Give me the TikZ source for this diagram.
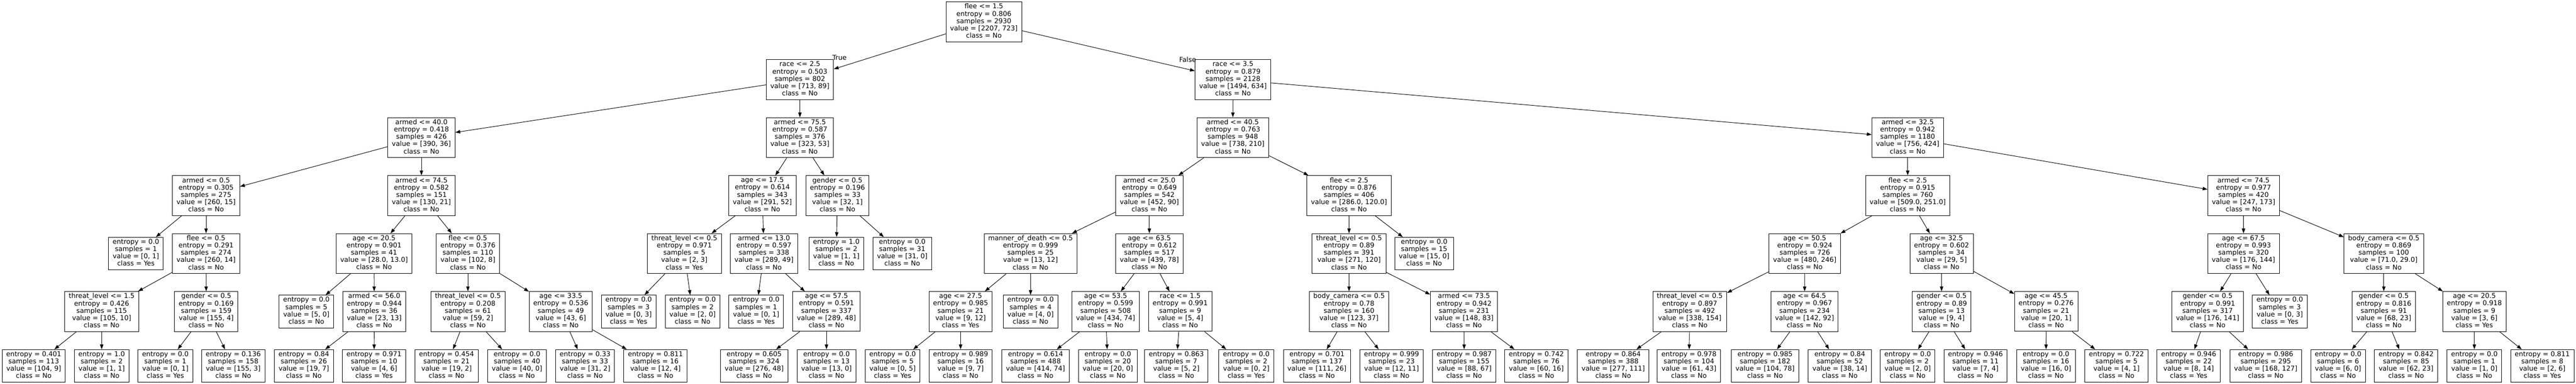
\documentclass[tikz,border=0pt]{standalone}
\usepackage{fontspec}
\setmainfont{DejaVu Sans}
\usepackage{tikz}
\usetikzlibrary{arrows.meta}

\newcommand{\SplitText}[5]{#1\\entropy = #2\\samples = #3\\value = [#4]\\class = #5}
\newcommand{\LeafText}[4]{entropy = #1\\samples = #2\\value = [#3]\\class = #4}

\begin{document}
\begin{tikzpicture}[x=1pt, y=-1pt,
	treebox/.style={draw=black, line width=1.33pt, rectangle, align=center, inner xsep=11.3pt, inner ysep=4.8pt, font=\fontsize{18.4}{20}\selectfont, execute at begin node=\strut, execute at end node=\strut},
	branch/.style={-{Triangle[length=13.3pt, width=9.3pt]}, line width=1.33pt},
	sidelabel/.style={font=\fontsize{18.4}{20}\selectfont, inner sep=0pt}]
					\pgfmathsetmacro{\PicWidth}{7069}
					\pgfmathsetmacro{\PicHeight}{1053}
					\pgfmathsetmacro{\RankA}{60}
					\pgfmathsetmacro{\RankB}{218.5}
					\pgfmathsetmacro{\RankC}{377.5}
					\pgfmathsetmacro{\RankD}{536.5}
					\pgfmathsetmacro{\RankE}{695.5}
					\pgfmathsetmacro{\RankF}{854.5}
					\pgfmathsetmacro{\RankG}{1003.5}
					\fill[white] (0,0) rectangle (\PicWidth,\PicHeight);
					% ROOT
					\node[treebox] (N) at (2700,\RankA) {\SplitText{flee <= 1.5}{0.806}{2930}{2207, 723}{No}};
					% DEPTH 1
					\node[treebox] (NT) at (2195,\RankB) {\SplitText{race <= 2.5}{0.503}{802}{713, 89}{No}};
					\node[treebox] (NF) at (3383.5,\RankB) {\SplitText{race <= 3.5}{0.879}{2128}{1494, 634}{No}};
					% DEPTH 2
					\node[treebox] (NTT) at (1156.5,\RankC) {\SplitText{armed <= 40.0}{0.418}{426}{390, 36}{No}};
					\node[treebox] (NTF) at (2195,\RankC) {\SplitText{armed <= 75.5}{0.587}{376}{323, 53}{No}};
					\node[treebox] (NFT) at (3383,\RankC) {\SplitText{armed <= 40.5}{0.763}{948}{738, 210}{No}};
					\node[treebox] (NFF) at (5235,\RankC) {\SplitText{armed <= 32.5}{0.942}{1180}{756, 424}{No}};
					% DEPTH 3
					\node[treebox] (NTTT) at (565.5,\RankD) {\SplitText{armed <= 0.5}{0.305}{275}{260, 15}{No}};
					\node[treebox] (NTTF) at (1156.5,\RankD) {\SplitText{armed <= 74.5}{0.582}{151}{130, 21}{No}};
					\node[treebox] (NTFT) at (2092,\RankD) {\SplitText{age <= 17.5}{0.614}{343}{291, 52}{No}};
					\node[treebox] (NTFF) at (2298,\RankD) {\SplitText{gender <= 0.5}{0.196}{33}{32, 1}{No}};
					\node[treebox] (NFTT) at (3154,\RankD) {\SplitText{armed <= 25.0}{0.649}{542}{452, 90}{No}};
					\node[treebox] (NFTF) at (3702,\RankD) {\SplitText{flee <= 2.5}{0.876}{406}{286.0, 120.0}{No}};
					\node[treebox] (NFFT) at (5235,\RankD) {\SplitText{flee <= 2.5}{0.915}{760}{509.0, 251.0}{No}};
					\node[treebox] (NFFF) at (6156.6,\RankD) {\SplitText{armed <= 74.5}{0.977}{420}{247, 173}{No}};
					% DEPTH 4
					\node[treebox] (NTTTT) at (373,\RankE) {\LeafText{0.0}{1}{0, 1}{Yes}};
					\node[treebox] (NTTTF) at (565.5,\RankE) {\SplitText{flee <= 0.5}{0.291}{274}{260, 14}{No}};
					\node[treebox] (NTTFT) at (1026.5,\RankE) {\SplitText{age <= 20.5}{0.901}{41}{28.0, 13.0}{No}};
					\node[treebox] (NTTFF) at (1284,\RankE) {\SplitText{flee <= 0.5}{0.376}{110}{102, 8}{No}};
					\node[treebox] (NTFTT) at (1878,\RankE) {\SplitText{threat\_level <= 0.5}{0.971}{5}{2, 3}{Yes}};
					\node[treebox] (NTFTF) at (2096.4,\RankE) {\SplitText{armed <= 13.0}{0.597}{338}{289, 49}{No}};
					\node[treebox] (NTFFT) at (2295,\RankE) {\LeafText{1.0}{2}{1, 1}{No}};
					\node[treebox] (NTFFF) at (2476,\RankE) {\LeafText{0.0}{31}{31, 0}{No}};
					\node[treebox] (NFTTT) at (2828,\RankE) {\SplitText{manner\_of\_death <= 0.5}{0.999}{25}{13, 12}{No}};
					\node[treebox] (NFTTF) at (3154,\RankE) {\SplitText{age <= 63.5}{0.612}{517}{439, 78}{No}};
					\node[treebox] (NFTFT) at (3702,\RankE) {\SplitText{threat\_level <= 0.5}{0.89}{391}{271, 120}{No}};
					\node[treebox] (NFTFF) at (3908,\RankE) {\LeafText{0.0}{15}{15, 0}{No}};
					\node[treebox] (NFFTT) at (4952.6,\RankE) {\SplitText{age <= 50.5}{0.924}{726}{480, 246}{No}};
					\node[treebox] (NFFTF) at (5328,\RankE) {\SplitText{age <= 32.5}{0.602}{34}{29, 5}{No}};
					\node[treebox] (NFFFT) at (6156.5,\RankE) {\SplitText{age <= 67.5}{0.993}{320}{176, 144}{No}};
					\node[treebox] (NFFFF) at (6541.5,\RankE) {\SplitText{body\_camera <= 0.5}{0.869}{100}{71.0, 29.0}{No}};
					% DEPTH 5
					\node[treebox] (NTTTFT) at (279,\RankF) {\SplitText{threat\_level <= 1.5}{0.426}{115}{105, 10}{No}};
					\node[treebox] (NTTTFF) at (566,\RankF) {\SplitText{gender <= 0.5}{0.169}{159}{155, 4}{No}};
					\node[treebox] (NTTFTT) at (840.7,\RankF) {\LeafText{0.0}{5}{5, 0}{No}};
					\node[treebox] (NTTFTF) at (1027,\RankF) {\SplitText{armed <= 56.0}{0.944}{36}{23, 13}{No}};
					\node[treebox] (NTTFFT) at (1284,\RankF) {\SplitText{threat\_level <= 0.5}{0.208}{61}{59, 2}{No}};
					\node[treebox] (NTTFFF) at (1539,\RankF) {\SplitText{age <= 33.5}{0.536}{49}{43, 6}{No}};
					\node[treebox] (NTFTTT) at (1725,\RankF) {\LeafText{0.0}{3}{0, 3}{Yes}};
					\node[treebox] (NTFTTF) at (1900.5,\RankF) {\LeafText{0.0}{2}{2, 0}{No}};
					\node[treebox] (NTFTFT) at (2075,\RankF) {\LeafText{0.0}{1}{0, 1}{Yes}};
					\node[treebox] (NTFTFF) at (2268,\RankF) {\SplitText{age <= 57.5}{0.591}{337}{289, 48}{No}};
					\node[treebox] (NFTTTT) at (2636,\RankF) {\SplitText{age <= 27.5}{0.985}{21}{9, 12}{Yes}};
					\node[treebox] (NFTTTF) at (2828,\RankF) {\LeafText{0.0}{4}{4, 0}{No}};
					\node[treebox] (NFTTFT) at (3034,\RankF) {\SplitText{age <= 53.5}{0.599}{508}{434, 74}{No}};
					\node[treebox] (NFTTFF) at (3238.5,\RankF) {\SplitText{race <= 1.5}{0.991}{9}{5, 4}{No}};
					\node[treebox] (NFTFTT) at (3702,\RankF) {\SplitText{body\_camera <= 0.5}{0.78}{160}{123, 37}{No}};
					\node[treebox] (NFTFTF) at (4017.5,\RankF) {\SplitText{armed <= 73.5}{0.942}{231}{148, 83}{No}};
					\node[treebox] (NFFTTT) at (4637,\RankF) {\SplitText{threat\_level <= 0.5}{0.897}{492}{338, 154}{No}};
					\node[treebox] (NFFTTF) at (4952,\RankF) {\SplitText{age <= 64.5}{0.967}{234}{142, 92}{No}};
					\node[treebox] (NFFTFT) at (5328,\RankF) {\SplitText{gender <= 0.5}{0.89}{13}{9, 4}{No}};
					\node[treebox] (NFFTFF) at (5615,\RankF) {\SplitText{age <= 45.5}{0.276}{21}{20, 1}{No}};
					\node[treebox] (NFFFTT) at (6058,\RankF) {\SplitText{gender <= 0.5}{0.991}{317}{176, 141}{No}};
					\node[treebox] (NFFFTF) at (6256,\RankF) {\LeafText{0.0}{3}{0, 3}{Yes}};
					\node[treebox] (NFFFFT) at (6541.5,\RankF) {\SplitText{gender <= 0.5}{0.816}{91}{68, 23}{No}};
					\node[treebox] (NFFFFF) at (6790,\RankF) {\SplitText{age <= 20.5}{0.918}{9}{3, 6}{Yes}};
					% DEPTH 6
					\node[treebox] (NTTTFTT) at (92.6,\RankG) {\LeafText{0.401}{113}{104, 9}{No}};
					\node[treebox] (NTTTFTF) at (279,\RankG) {\LeafText{1.0}{2}{1, 1}{No}};
					\node[treebox] (NTTTFFT) at (453.8,\RankG) {\LeafText{0.0}{1}{0, 1}{Yes}};
					\node[treebox] (NTTTFFF) at (640,\RankG) {\LeafText{0.136}{158}{155, 3}{No}};
					\node[treebox] (NTTFTFT) at (833.8,\RankG) {\LeafText{0.84}{26}{19, 7}{No}};
					\node[treebox] (NTTFTFF) at (1026.6,\RankG) {\LeafText{0.971}{10}{4, 6}{Yes}};
					\node[treebox] (NTTFFTT) at (1225.5,\RankG) {\LeafText{0.454}{21}{19, 2}{No}};
					\node[treebox] (NTTFFTF) at (1418.8,\RankG) {\LeafText{0.0}{40}{40, 0}{No}};
					\node[treebox] (NTTFFFT) at (1605.5,\RankG) {\LeafText{0.33}{33}{31, 2}{No}};
					\node[treebox] (NTTFFFF) at (1798.7,\RankG) {\LeafText{0.811}{16}{12, 4}{No}};
					\node[treebox] (NTFTFFT) at (2069.6,\RankG) {\LeafText{0.605}{324}{276, 48}{No}};
					\node[treebox] (NTFTFFF) at (2268,\RankG) {\LeafText{0.0}{13}{13, 0}{No}};
					\node[treebox] (NFTTTTT) at (2449.5,\RankG) {\LeafText{0.0}{5}{0, 5}{Yes}};
					\node[treebox] (NFTTTTF) at (2636,\RankG) {\LeafText{0.989}{16}{9, 7}{No}};
					\node[treebox] (NFTTFTT) at (2841.7,\RankG) {\LeafText{0.614}{488}{414, 74}{No}};
					\node[treebox] (NFTTFTF) at (3040,\RankG) {\LeafText{0.0}{20}{20, 0}{No}};
					\node[treebox] (NFTTFFT) at (3228,\RankG) {\LeafText{0.863}{7}{5, 2}{No}};
					\node[treebox] (NFTTFFF) at (3420,\RankG) {\LeafText{0.0}{2}{0, 2}{Yes}};
					\node[treebox] (NFTFTTT) at (3614,\RankG) {\LeafText{0.701}{137}{111, 26}{No}};
					\node[treebox] (NFTFTTF) at (3818.6,\RankG) {\LeafText{0.999}{23}{12, 11}{No}};
					\node[treebox] (NFTFTFT) at (4018,\RankG) {\LeafText{0.987}{155}{88, 67}{No}};
					\node[treebox] (NFTFTFF) at (4216,\RankG) {\LeafText{0.742}{76}{60, 16}{No}};
					\node[treebox] (NFFTTTT) at (4427,\RankG) {\LeafText{0.864}{388}{277, 111}{No}};
					\node[treebox] (NFFTTTF) at (4634.8,\RankG) {\LeafText{0.978}{104}{61, 43}{No}};
					\node[treebox] (NFFTTFT) at (4843.6,\RankG) {\LeafText{0.985}{182}{104, 78}{No}};
					\node[treebox] (NFFTTFF) at (5048.7,\RankG) {\LeafText{0.84}{52}{38, 14}{No}};
					\node[treebox] (NFFTFTT) at (5235,\RankG) {\LeafText{0.0}{2}{2, 0}{No}};
					\node[treebox] (NFFTFTF) at (5421,\RankG) {\LeafText{0.946}{11}{7, 4}{No}};
					\node[treebox] (NFFTFFT) at (5614.6,\RankG) {\LeafText{0.0}{16}{16, 0}{No}};
					\node[treebox] (NFFTFFF) at (5808,\RankG) {\LeafText{0.722}{5}{4, 1}{No}};
					\node[treebox] (NFFFTTT) at (6006,\RankG) {\LeafText{0.946}{22}{8, 14}{Yes}};
					\node[treebox] (NFFFTTF) at (6217.6,\RankG) {\LeafText{0.986}{295}{168, 127}{No}};
					\node[treebox] (NFFFFTT) at (6416,\RankG) {\LeafText{0.0}{6}{6, 0}{No}};
					\node[treebox] (NFFFFTF) at (6602.6,\RankG) {\LeafText{0.842}{85}{62, 23}{No}};
					\node[treebox] (NFFFFFT) at (6790,\RankG) {\LeafText{0.0}{1}{1, 0}{No}};
					\node[treebox] (NFFFFFF) at (6976.5,\RankG) {\LeafText{0.811}{8}{2, 6}{Yes}};
					% BRANCHES
					\foreach \Parent/\Child in {N/NT, N/NF,
						NT/NTT, NT/NTF, NF/NFT, NF/NFF,
						NTT/NTTT, NTT/NTTF, NTF/NTFT, NTF/NTFF, NFT/NFTT, NFT/NFTF, NFF/NFFT, NFF/NFFF,
						NTTT/NTTTT, NTTT/NTTTF, NTTF/NTTFT, NTTF/NTTFF, NTFT/NTFTT, NTFT/NTFTF, NTFF/NTFFT, NTFF/NTFFF,
						NFTT/NFTTT, NFTT/NFTTF, NFTF/NFTFT, NFTF/NFTFF, NFFT/NFFTT, NFFT/NFFTF, NFFF/NFFFT, NFFF/NFFFF,
						NTTTF/NTTTFT, NTTTF/NTTTFF, NTTFT/NTTFTT, NTTFT/NTTFTF, NTTFF/NTTFFT, NTTFF/NTTFFF,
						NTFTT/NTFTTT, NTFTT/NTFTTF, NTFTF/NTFTFT, NTFTF/NTFTFF,
						NFTTT/NFTTTT, NFTTT/NFTTTF, NFTTF/NFTTFT, NFTTF/NFTTFF, NFTFT/NFTFTT, NFTFT/NFTFTF,
						NFFTT/NFFTTT, NFFTT/NFFTTF, NFFTF/NFFTFT, NFFTF/NFFTFF, NFFFT/NFFFTT, NFFFT/NFFFTF, NFFFF/NFFFFT, NFFFF/NFFFFF,
						NTTTFT/NTTTFTT, NTTTFT/NTTTFTF, NTTTFF/NTTTFFT, NTTTFF/NTTTFFF, NTTFTF/NTTFTFT, NTTFTF/NTTFTFF,
						NTTFFT/NTTFFTT, NTTFFT/NTTFFTF, NTTFFF/NTTFFFT, NTTFFF/NTTFFFF, NTFTFF/NTFTFFT, NTFTFF/NTFTFFF,
						NFTTTT/NFTTTTT, NFTTTT/NFTTTTF, NFTTFT/NFTTFTT, NFTTFT/NFTTFTF, NFTTFF/NFTTFFT, NFTTFF/NFTTFFF,
						NFTFTT/NFTFTTT, NFTFTT/NFTFTTF, NFTFTF/NFTFTFT, NFTFTF/NFTFTFF, NFFTTT/NFFTTTT, NFFTTT/NFFTTTF,
						NFFTTF/NFFTTFT, NFFTTF/NFFTTFF, NFFTFT/NFFTFTT, NFFTFT/NFFTFTF, NFFTFF/NFFTFFT, NFFTFF/NFFTFFF,
						NFFFTT/NFFFTTT, NFFFTT/NFFFTTF, NFFFFT/NFFFFTT, NFFFFT/NFFFFTF, NFFFFF/NFFFFFT, NFFFFF/NFFFFFF}
						\draw[branch] (\Parent) -- (\Child);
					% TRUE / FALSE
					\node[sidelabel, anchor=base west] (TrueLabel) at ([xshift=-4pt, yshift=-2pt]NT.north east) {True};
					\node[sidelabel, anchor=base east] (FalseLabel) at ([xshift=3.5pt, yshift=-7pt]NF.north west) {False};
				\end{tikzpicture}
\end{document}
